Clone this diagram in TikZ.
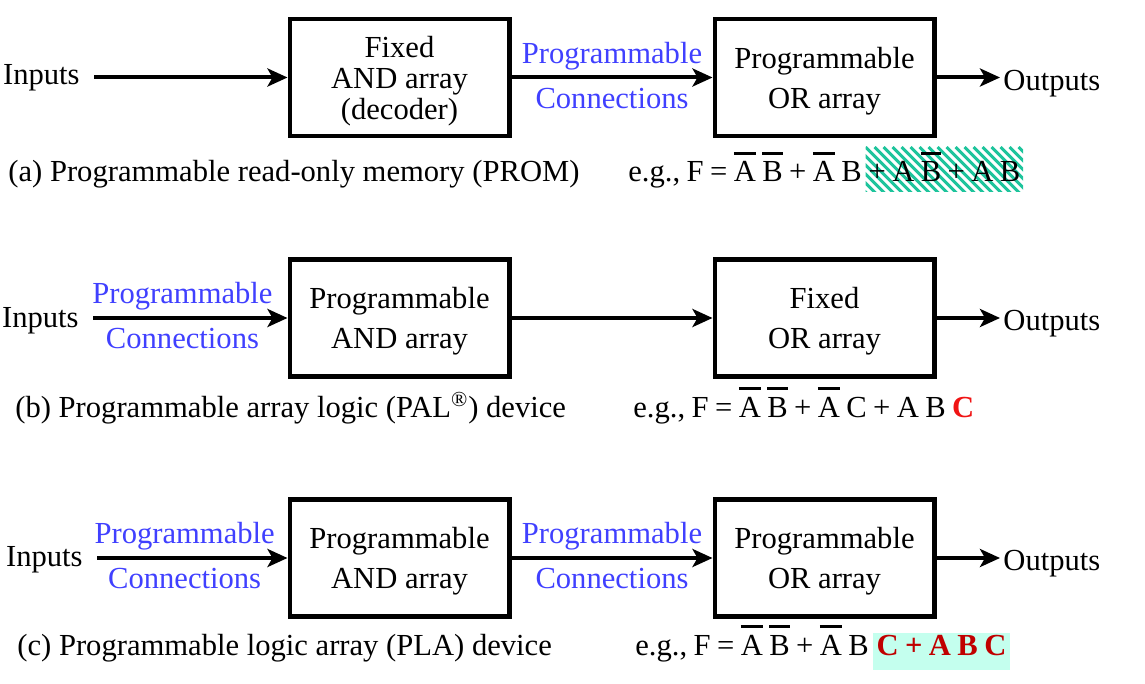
\documentclass[tikz,border=0pt]{standalone}
\usepackage{fontspec}
\setmainfont{Liberation Serif}
\usetikzlibrary{arrows.meta}

\definecolor{progblue}{RGB}{64,64,255}
\definecolor{termred}{RGB}{240,20,20}
\definecolor{darkred}{RGB}{192,0,0}
\definecolor{hatchgreen}{RGB}{30,196,156}
\definecolor{lightcyan}{RGB}{196,255,238}

% complemented literal
\newsavebox{\ovlbox}
\newcommand{\ovl}[1]{\sbox{\ovlbox}{#1}\rlap{\rule[13.5pt]{\wd\ovlbox}{1.4pt}}\usebox{\ovlbox}}

\tikzset{
  blk/.style={draw, line width=2.4pt, minimum width=109.6pt, minimum height=58.5pt, align=center, text depth=-1.5pt},
  arr/.style={line width=2pt, -{Stealth[length=10pt,width=9pt,inset=2.5pt]}},
  lbl/.style={inner sep=0pt},
  eqn/.style={inner sep=0pt, execute at begin node={\spaceskip=0.21em\relax}},
  conn/.style={text=progblue, inner sep=0pt},
  hatchbox/.style={eqn, inner xsep=1.5pt, inner ysep=0pt, text height=17.5pt, text depth=5pt,
    path picture={
      \foreach \k in {-12,...,22}
        \draw[hatchgreen, line width=1.5pt] ([xshift=\k*4.5pt]path picture bounding box.north west) -- ++(30pt,-30pt);
    }},
  cyanbox/.style={eqn, fill=lightcyan, text=darkred, inner xsep=2pt, inner ysep=0pt, text height=11pt, text depth=7.5pt}
}

\begin{document}
\begin{tikzpicture}[x=0.5pt, y=-0.5pt, font=\fontsize{15.3}{20}\selectfont]
  \useasboundingbox (0,0) rectangle (1145,684);

  % (a) PROM
  \node[blk, font=\fontsize{15.3}{15.5}\selectfont] (anda) at (399.5,77.5) {Fixed\\AND array\\(decoder)};
  \node[blk] (ora) at (824.5,77.5) {Programmable\\OR array};
  \node[lbl, inner xsep=7pt, anchor=east] (ina) at (94,78) {Inputs};
  \node[lbl, inner xsep=1.5pt, anchor=west] (outa) at (1000,84) {Outputs};
  \draw[arr] (ina.east |- anda) -- (anda);
  \draw[arr] (anda) -- node[conn, above=2.7pt] {Programmable} node[conn, below=4.3pt] {Connections} (ora);
  \draw[arr] (ora) -- (outa.west |- ora);
  \node[lbl, anchor=base west] (capa) at (8,182) {(a) Programmable read-only memory (PROM)};
  \node[eqn, anchor=base west] (eqa) at (628,182) {e.g., F = \ovl{A} \ovl{B} + \ovl{A} B};
  \node[hatchbox, anchor=base west, xshift=1.5pt] (hla) at (eqa.base east) {+ A \ovl{B} + A B};

  % (b) PAL
  \node[blk] (andb) at (399.5,318) {Programmable\\AND array};
  \node[blk] (orb) at (824.5,318) {Fixed\\OR array};
  \node[lbl, inner xsep=7pt, anchor=east] (inb) at (93,321) {Inputs};
  \node[lbl, inner xsep=1.5pt, anchor=west] (outb) at (1000,324) {Outputs};
  \draw[arr] (inb.east |- andb) -- node[conn, pos=0.46, above=2.7pt] {Programmable} node[conn, pos=0.46, below=4.3pt] {Connections} (andb);
  \draw[arr] (andb) -- (orb);
  \draw[arr] (orb) -- (outb.west |- orb);
  \node[lbl, anchor=base west] (capb) at (15,417) {(b) Programmable array logic (PAL\textsuperscript{\textregistered}) device};
  \node[eqn, anchor=base west] (eqb) at (633,417) {e.g., F = \ovl{A} \ovl{B} + \ovl{A} C + A B {\bfseries\color{termred}C}};

  % (c) PLA
  \node[blk] (andc) at (399.5,558) {Programmable\\AND array};
  \node[blk] (orc) at (824.5,558) {Programmable\\OR array};
  \node[lbl, inner xsep=7pt, anchor=east] (inc) at (97,560) {Inputs};
  \node[lbl, inner xsep=1.5pt, anchor=west] (outc) at (1000,564) {Outputs};
  \draw[arr] (inc.east |- andc) -- node[conn, pos=0.46, above=2.7pt] {Programmable} node[conn, pos=0.46, below=4.3pt] {Connections} (andc);
  \draw[arr] (andc) -- node[conn, above=2.7pt] {Programmable} node[conn, below=4.3pt] {Connections} (orc);
  \draw[arr] (orc) -- (outc.west |- orc);
  \node[lbl, anchor=base west] (capc) at (17,655) {(c) Programmable logic array (PLA) device};
  \node[eqn, anchor=base west] (eqc) at (635,655) {e.g., F = \ovl{A} \ovl{B} + \ovl{A} B};
  \node[cyanbox, anchor=base west, xshift=1.5pt] (hlc) at (eqc.base east) {\bfseries C + A B C};
\end{tikzpicture}
\end{document}
